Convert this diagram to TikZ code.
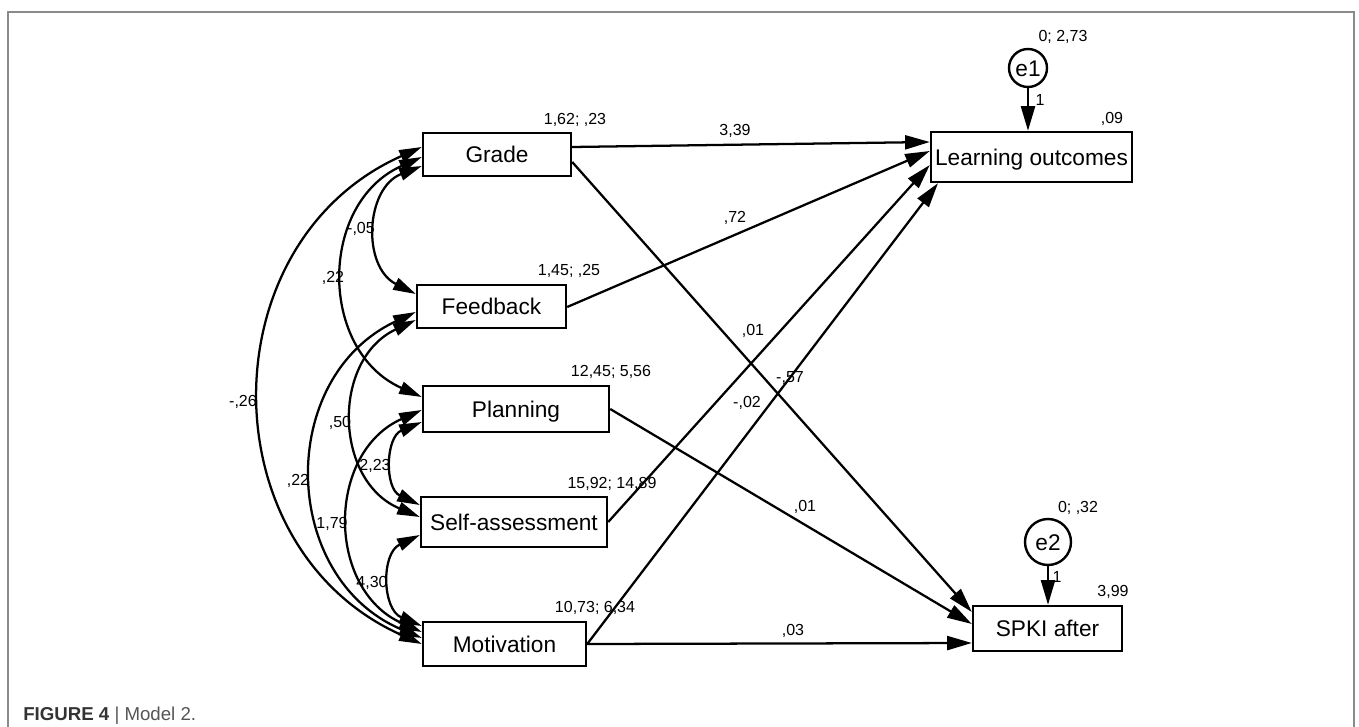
\documentclass[tikz,border=0pt]{standalone}
\usepackage{fontspec}
\setmainfont{Liberation Sans}
\usetikzlibrary{arrows.meta}
\definecolor{framegray}{HTML}{8A8A8A}
\definecolor{capdark}{HTML}{333333}
\definecolor{capmid}{HTML}{555555}
\begin{document}
\begin{tikzpicture}[x=0.75pt,y=-0.75pt,
  box/.style={draw, line width=1.8pt, inner sep=0pt, text height=12.2pt, text depth=0pt, font=\fontsize{17}{20}\selectfont},
  err/.style={draw, circle, line width=1.8pt, inner sep=0pt, text height=12.2pt, text depth=0pt, font=\fontsize{17}{20}\selectfont},
  lbl/.style={inner sep=0pt, text height=8.6pt, text depth=0pt, font=\fontsize{12}{14}\selectfont},
  reg/.style={line width=1.7pt, -{Triangle[length=18.5pt,width=10.5pt]}},
  cov/.style={line width=1.7pt, {Triangle[length=17pt,width=9.5pt]}-{Triangle[length=17pt,width=9.5pt]}, bend right=66, looseness=1.21},
  frameline/.style={draw=framegray, line width=1pt}]
\useasboundingbox (0,0) rectangle (1359,727);
\draw[frameline] (8,727) -- (8,12) -- (1354,12) -- (1354,727);

% observed variables
\node[box, minimum width=111pt, minimum height=32.25pt] (grade) at (497,154.5) {Grade};
\node[box, minimum width=111.75pt, minimum height=32.25pt] (feedback) at (491.5,306.5) {Feedback};
\node[box, minimum width=139.5pt, minimum height=34.5pt] (planning) at (516,409) {Planning};
\node[box, minimum width=139.5pt, minimum height=37.5pt] (selfa) at (514,522) {Self-assessment};
\node[box, minimum width=122.25pt, minimum height=33pt] (motiv) at (504.5,644) {Motivation};
\node[box, minimum width=150.75pt, minimum height=37.5pt] (lo) at (1031.5,157) {Learning outcomes};
\node[box, minimum width=111.75pt, minimum height=33.75pt] (spki) at (1047.5,628.5) {SPKI after};

% error terms
\node[err, minimum size=28.5pt] (e1) at (1028,68) {e1};
\node[err, minimum size=34.5pt] (e2) at (1048,542) {e2};

% regression paths
\draw[reg] (grade.east |- 0,147) -- (lo.west |- 0,142);
\draw[reg] (feedback.east |- 0,307) -- (lo.west |- 0,151);
\draw[reg] (selfa.east) -- (lo.west |- 0,165);
\draw[reg] (motiv.east) -- (938,0 |- lo.south);
\draw[reg] (grade.east |- 0,162) -- (spki.west |- 0,612);
\draw[reg] (planning.east) -- (spki.west |- 0,624);
\draw[reg] (motiv.east) -- (spki.west |- 0,643);
\draw[reg] (e1.south) -- (e1.south |- lo.north);
\draw[reg] (e2.south) -- (e2.south |- spki.north);

% covariances
\draw[cov] (grade.west |- 0,166) to (feedback.west |- 0,294);
\draw[cov] (grade.west |- 0,157) to (planning.west |- 0,397);
\draw[cov] (grade.west |- 0,147) to (motiv.west |- 0,644);
\draw[cov] (feedback.west |- 0,320) to (selfa.west |- 0,517);
\draw[cov] (feedback.west |- 0,312) to (motiv.west |- 0,638);
\draw[cov] (planning.west |- 0,422) to (selfa.west |- 0,505);
\draw[cov] (planning.west |- 0,410) to (motiv.west |- 0,632);
\draw[cov] (selfa.west |- 0,535) to (motiv.west |- 0,626);

% parameter labels
\node[lbl] (lg) at (575,119) {1,62; ,23};
\node[lbl] (lf) at (569,270) {1,45; ,25};
\node[lbl] (lp) at (611,371) {12,45; 5,56};
\node[lbl] (ls) at (612,483) {15,92; 14,89};
\node[lbl] (lm) at (595,607) {10,73; 6,34};
\node[lbl] (l1) at (735,130) {3,39};
\node[lbl] (l2) at (735,217) {,72};
\node[lbl] (l3) at (753,330) {,01};
\node[lbl] (l4) at (790,377) {-,57};
\node[lbl] (l5) at (747,402) {-,02};
\node[lbl] (l6) at (805,506) {,01};
\node[lbl] (l7) at (793,630) {,03};
\node[lbl] (le1) at (1063,36) {0; 2,73};
\node[lbl] (le1w) at (1040,100) {1};
\node[lbl] (llo) at (1112,118) {,09};
\node[lbl] (le2) at (1078,507) {0; ,32};
\node[lbl] (le2w) at (1057,577) {1};
\node[lbl] (lsp) at (1113,591) {3,99};
\node[lbl] (c1) at (361,228) {-,05};
\node[lbl] (c2) at (333,277) {,22};
\node[lbl] (c3) at (243,401) {-,26};
\node[lbl] (c4) at (340,422) {,50};
\node[lbl] (c5) at (375,465) {2,23};
\node[lbl] (c6) at (298,480) {,22};
\node[lbl] (c7) at (332,523) {1,79};
\node[lbl] (c8) at (372,582) {4,30};

% caption
\node[anchor=base west, inner sep=0pt, font=\fontsize{14}{16}\selectfont] (cap) at (23,720)
  {\textcolor{capdark}{\textbf{FIGURE 4}} \textcolor{capmid}{| Model 2.}};
\end{tikzpicture}
\end{document}
